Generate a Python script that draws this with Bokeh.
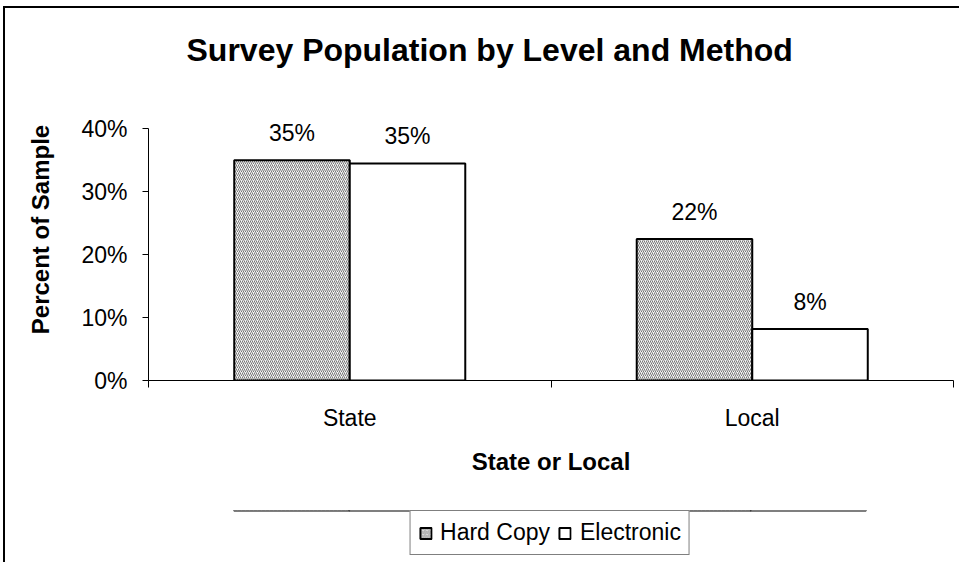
from bokeh.plotting import figure
from bokeh.layouts import column
from bokeh.models import (Range1d, FixedTicker, PrintfTickFormatter, Legend, LegendItem,
                          ColumnDataSource, LabelSet)
from bokeh.transform import dodge
from bokeh.core.properties import value
from bokeh.embed import file_html
from bokeh.resources import INLINE

categories = ["State", "Local"]
series_names = ["Hard Copy", "Electronic"]
hard_copy = [35.0, 22.5]
electronic = [34.5, 8.2]
hard_copy_labels = ["35%", "22%"]
electronic_labels = ["35%", "8%"]
y_ticks = [0, 10, 20, 30, 40]

FONT = "Liberation Sans"
x_pos = [i + 0.5 for i in range(len(categories))]
src = ColumnDataSource(dict(x=x_pos, hc=hard_copy, el=electronic,
                            hcl=hard_copy_labels, ell=electronic_labels))

HC_STYLE = dict(fill_color="#f4f4f4", line_color="black", line_width=2,
                hatch_pattern="right_diagonal_line", hatch_scale=4, hatch_weight=1,
                hatch_color="#777777")
EL_STYLE = dict(fill_color="white", line_color="black", line_width=2)

p = figure(width=954, frame_width=803, frame_height=300, output_backend="svg",
           toolbar_location=None,
           x_range=Range1d(0, len(categories)), y_range=Range1d(0, 48),
           min_border_left=143, min_border_right=8, min_border_top=70, min_border_bottom=132,
           margin=(6, 0, 0, 3),
           styles={"border-left": "2px solid #000", "border-top": "2px solid #000"})
p.outline_line_color = None
p.grid.visible = False
p.background_fill_color = "white"
p.border_fill_color = "white"

bw = 0.287
p.vbar(x=dodge("x", -bw / 2), top="hc", width=bw, source=src, **HC_STYLE)
p.vbar(x=dodge("x", bw / 2), top="el", width=bw, source=src, **EL_STYLE)

for col, lab, off in (("hc", "hcl", -bw / 2), ("el", "ell", bw / 2)):
    p.add_layout(LabelSet(x=dodge("x", off), y=col, text=lab, source=src, y_offset=27,
                          text_align="center", text_baseline="middle",
                          text_font=value(FONT), text_font_size=value("23px"),
                          text_color="black"))

# y axis
ya = p.yaxis[0]
ya.ticker = FixedTicker(ticks=y_ticks)
ya.bounds = (y_ticks[0], y_ticks[-1])
ya.formatter = PrintfTickFormatter(format="%d%%")
ya.major_tick_in = 0
ya.major_tick_out = 6
ya.minor_tick_out = 0
ya.minor_tick_in = 0
ya.major_label_standoff = 15
ya.major_label_text_font = FONT
ya.major_label_text_font_size = "23px"
ya.major_label_text_color = "black"
ya.axis_label = "Percent of Sample"
ya.axis_label_text_font = FONT
ya.axis_label_text_font_style = "bold"
ya.axis_label_text_font_size = "24px"
ya.axis_label_text_color = "black"
ya.axis_label_standoff = 24
ya.axis_line_color = "black"

# x axis: labels at group centres, ticks at group boundaries
xa = p.xaxis[0]
xa.ticker = FixedTicker(ticks=x_pos, minor_ticks=list(range(len(categories) + 1)))
xa.major_label_overrides = {x: c for x, c in zip(x_pos, categories)}
xa.major_tick_in = 0
xa.major_tick_out = 0
xa.minor_tick_in = 0
xa.minor_tick_out = 7
xa.minor_tick_line_color = "black"
xa.major_label_standoff = 17
xa.major_label_text_font = FONT
xa.major_label_text_font_size = "23px"
xa.major_label_text_color = "black"
xa.axis_label = "State or Local"
xa.axis_label_text_font = FONT
xa.axis_label_text_font_style = "bold"
xa.axis_label_text_font_size = "24px"
xa.axis_label_text_color = "black"
xa.axis_label_standoff = 14
xa.axis_line_color = "black"

p.title.text = "Survey Population by Level and Method"
p.title.text_font = FONT
p.title.text_font_size = "32px"
p.title.text_font_style = "bold"
p.title.align = "left"
p.title.offset = 38
p.title.standoff = 21
p.title.text_color = "black"

# legend strip below the chart (same page frame); its bars lie well outside its view
p2 = figure(width=954, height=52, output_backend="svg", toolbar_location=None,
            x_axis_type=None, y_axis_type=None, min_border=0,
            x_range=Range1d(0, len(categories)), y_range=Range1d(-20, -10),
            margin=(0, 0, 0, 3), styles={"border-left": "2px solid #000"})
p2.outline_line_color = None
p2.grid.visible = False
p2.border_fill_color = "white"
p2.background_fill_color = "white"
r_hc = p2.vbar(x=dodge("x", -bw / 2), top="hc", width=bw, source=src, **HC_STYLE)
r_el = p2.vbar(x=dodge("x", bw / 2), top="el", width=bw, source=src, **EL_STYLE)

legend = Legend(items=[LegendItem(label=series_names[0], renderers=[r_hc]),
                       LegendItem(label=series_names[1], renderers=[r_el])],
                orientation="horizontal", location="top_center",
                glyph_width=14, glyph_height=14, label_standoff=8, spacing=8,
                padding=8, margin=0, label_text_font=FONT, label_text_font_size="23px",
                label_text_color="black",
                label_height=24, border_line_color="black", border_line_width=1,
                background_fill_color="white", background_fill_alpha=1.0)
p2.add_layout(legend, "center")

layout = column(p, p2, spacing=0)
open("out.html", "w").write(file_html(layout, INLINE))
